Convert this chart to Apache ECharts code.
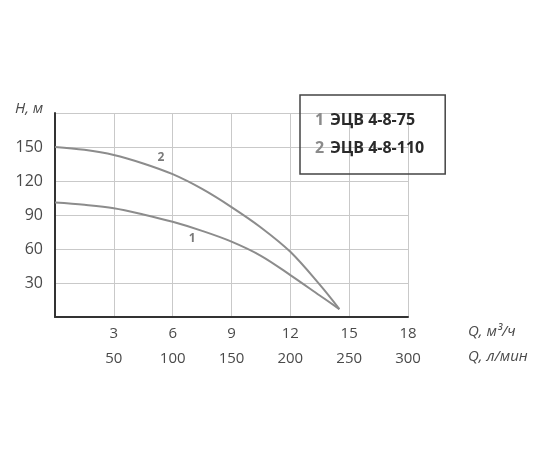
<!DOCTYPE html>
<html>
<head>
<meta charset="utf-8">
<script src="https://cdn.jsdelivr.net/npm/echarts@6/dist/echarts.min.js"></script>
<style>html,body{margin:0;padding:0;background:#fff}#c{width:550px;height:450px}</style>
</head>
<body>
<div id="c"></div>
<script>
const flow = [0, 1.5, 3, 4.5, 6, 7.5, 9, 10.5, 12, 13.5, 14.5];
const head1 = [101, 99, 96, 90.5, 84, 76, 66.5, 54, 37, 19, 7];
const head2 = [150, 147.5, 143, 135.5, 126, 113, 97, 79, 57.5, 28.5, 7];
const seriesNames = ['ЭЦВ 4-8-75', 'ЭЦВ 4-8-110'];
const curveNumbers = ['1', '2'];
const labelPos1 = [7.0, 69];
const labelPos2 = [5.4, 141];
const xName1 = 'Q, м³/ч';
const xName2 = 'Q, л/мин';
const yName = 'H, м';

const font = '"Open Sans", sans-serif';
const txt = '#4a4a4a';
const curveColor = '#8c8c8c';

function pairs(xs, ys) { return xs.map((x, i) => [x, ys[i]]); }

const chart = echarts.init(document.getElementById('c'));
chart.setOption({
  animation: false,
  backgroundColor: '#fff',
  textStyle: { fontFamily: font },
  grid: { left: 55, right: 142, top: 113, bottom: 133 },
  legend: {
    orient: 'vertical',
    left: 300, top: 95,
    padding: [17, 21, 18, 10],
    borderColor: '#444', borderWidth: 1.5,
    itemWidth: 0, itemHeight: 0, itemGap: 12,
    icon: 'rect',
    data: seriesNames,
    formatter: function (name) {
      return '{n|' + curveNumbers[seriesNames.indexOf(name)] + '}{t|' + name + '}';
    },
    textStyle: {
      rich: {
        n: { fontFamily: font, fontSize: 16, color: '#8a8a8a', fontWeight: 'bold', lineHeight: 20, padding: [0, 6, 0, 0] },
        t: { fontFamily: font, fontSize: 16, color: '#2a2a2a', fontWeight: 'bold', lineHeight: 20 }
      }
    }
  },
  xAxis: [{
    type: 'value', min: 0, max: 18, interval: 3, position: 'bottom',
    axisLine: { show: true, onZero: false, lineStyle: { color: '#333', width: 2 } },
    axisTick: { show: false },
    splitLine: { show: true, lineStyle: { color: '#c9c9c9', width: 1 } },
    axisLabel: { margin: 9, fontSize: 15, color: txt, fontFamily: font,
      formatter: v => v === 0 ? '' : String(v) }
  }, {
    type: 'value', min: 0, max: 300, interval: 50, position: 'bottom', offset: 25,
    axisLine: { show: false }, axisTick: { show: false }, splitLine: { show: false },
    axisLabel: { margin: 9, fontSize: 15, color: txt, fontFamily: font,
      formatter: v => v === 0 ? '' : String(v) }
  }],
  yAxis: {
    type: 'value', min: 0, max: 180, interval: 30,
    axisLine: { show: true, onZero: false, lineStyle: { color: '#333', width: 2 } },
    axisTick: { show: false },
    splitLine: { show: true, lineStyle: { color: '#c9c9c9', width: 1 } },
    axisLabel: { margin: 12, fontSize: 16, color: txt, fontFamily: font,
      formatter: v => (v === 0 || v === 180) ? '' : String(v) }
  },
  graphic: [
    { type: 'text', left: 15, top: 101, style: { text: yName, font: 'italic 15px ' + font, fill: txt } },
    { type: 'text', left: 468, top: 324, style: { text: xName1, font: 'italic 15px ' + font, fill: txt } },
    { type: 'text', left: 468, top: 349, style: { text: xName2, font: 'italic 15px ' + font, fill: txt } }
  ],
  series: [{
    name: seriesNames[0], type: 'line', smooth: 0.35, showSymbol: false,
    data: pairs(flow, head1),
    lineStyle: { color: curveColor, width: 2 }, itemStyle: { color: curveColor },
    markPoint: {
      symbol: 'circle', symbolSize: 0,
      label: { show: true, formatter: curveNumbers[0], color: '#7a7a7a', fontSize: 12, fontWeight: 'bold', fontFamily: font },
      data: [{ coord: labelPos1 }]
    }
  }, {
    name: seriesNames[1], type: 'line', smooth: 0.35, showSymbol: false,
    data: pairs(flow, head2),
    lineStyle: { color: curveColor, width: 2 }, itemStyle: { color: curveColor },
    markPoint: {
      symbol: 'circle', symbolSize: 0,
      label: { show: true, formatter: curveNumbers[1], color: '#7a7a7a', fontSize: 12, fontWeight: 'bold', fontFamily: font },
      data: [{ coord: labelPos2 }]
    }
  }]
});
</script>
</body>
</html>
